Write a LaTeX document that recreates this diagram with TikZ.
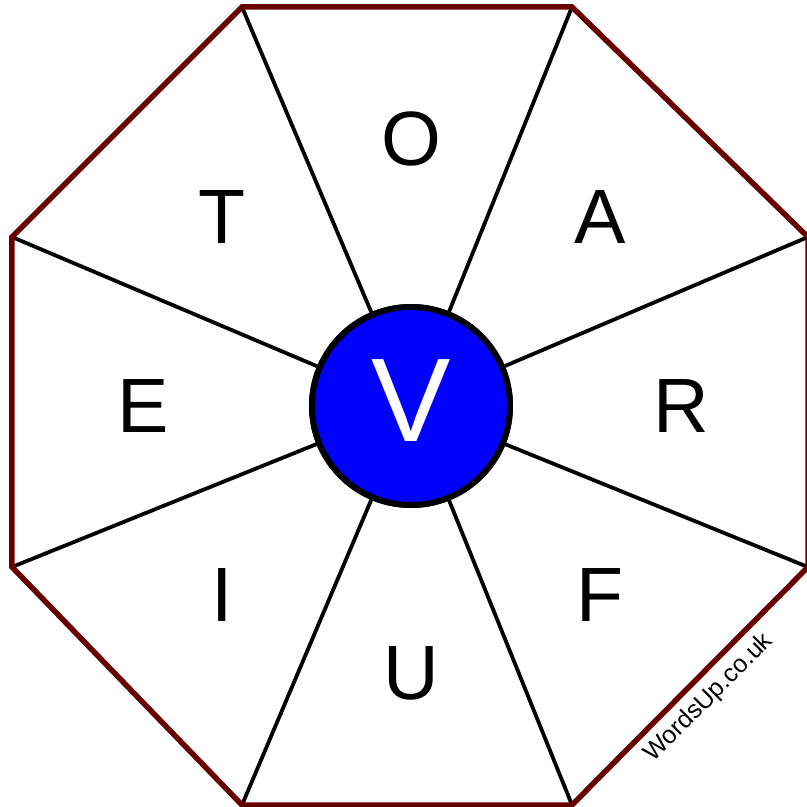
\documentclass[tikz,border=0pt]{standalone}
\usepackage{fontspec}
\setmainfont{Liberation Sans}
\definecolor{rimred}{RGB}{104,0,0}
\definecolor{hubblue}{RGB}{0,0,255}
\tikzset{
  rim/.style={draw=rimred, line width=5.5pt, line join=miter},
  spoke/.style={line width=3.8pt},
  letter/.style={font=\fontsize{77}{77}\selectfont, inner sep=0pt},
  hubdisc/.style={circle, draw, line width=6pt, fill=hubblue, minimum size=198pt, inner sep=0pt}
}

\begin{document}
\begin{tikzpicture}[x=1pt, y=1pt]
    \useasboundingbox (-411,-401) rectangle (396,406);
    % corners of the octagon
    \coordinate (v0) at (-169,399);
    \coordinate (v1) at (161,399);
    \coordinate (v2) at (397,169);
    \coordinate (v3) at (397,-161);
    \coordinate (v4) at (161,-399);
    \coordinate (v5) at (-169,-399);
    \coordinate (v6) at (-399,-161);
    \coordinate (v7) at (-399,169);
    \node[hubdisc] (hub) at (0,0) {};
    \foreach \i in {0,...,7}
      \draw[spoke] (v\i) -- (hub);
    \node[hubdisc] (hub) at (0,0) {};
    \node[letter, text=white, font=\fontsize{119}{119}\selectfont] (mid) at (0,5) {V};
    \draw[rim] (v0) -- (v1) -- (v2) -- (v3) -- (v4) -- (v5) -- (v6) -- (v7) -- cycle;
    % outer letters
    \node[letter] (lo) at (90:267) {O};
    \node[letter] (la) at (45:267) {A};
    \node[letter] (lr) at (0:270) {R};
    \node[letter] (lf) at (-45:267) {F};
    \node[letter] (lu) at (-90:267) {U};
    \node[letter] (li) at (-135:267) {I};
    \node[letter] (le) at (180:268) {E};
    \node[letter] (lt) at (135:267) {T};
    \node[rotate=45, inner sep=0pt, font=\fontsize{25}{25}\selectfont] (site) at (298,-292) {WordsUp.co.uk};
  \end{tikzpicture}
\end{document}
